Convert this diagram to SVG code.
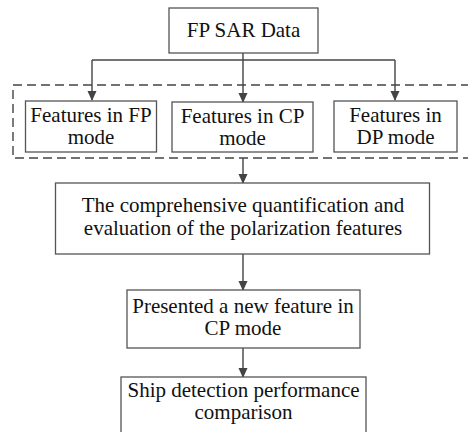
<svg xmlns="http://www.w3.org/2000/svg" width="468" height="432" viewBox="0 0 468 432">
<style>
.box{fill:#fff;stroke:#555;stroke-width:1.3}
.t{font-family:"Liberation Serif","Times New Roman",serif;font-size:21px;fill:#111;text-anchor:middle}
.ln{fill:none;stroke:#444;stroke-width:1.4}
.dash{fill:none;stroke:#444;stroke-width:1.4;stroke-dasharray:9,5}
</style>
<defs>
<marker id="ah" markerWidth="10" markerHeight="11" refX="10" refY="5" orient="auto" markerUnits="userSpaceOnUse" viewBox="0 0 11 10">
<path d="M0,0 L11,5 L0,10 z" fill="#444"/>
</marker>
</defs>
<rect width="468" height="432" fill="#fff"/>
<path class="dash" d="M470,85 H13 V158 H470"/>
<g id="connectors">
<path class="ln" d="M243,53 V60"/>
<path class="ln" d="M92,60 H395"/>
<path class="ln" d="M92,60 V100" marker-end="url(#ah)"/>
<path class="ln" d="M243,60 V102" marker-end="url(#ah)"/>
<path class="ln" d="M395,60 V100" marker-end="url(#ah)"/>
<path class="ln" d="M243,158 V183" marker-end="url(#ah)"/>
<path class="ln" d="M243,254 V290" marker-end="url(#ah)"/>
<path class="ln" d="M243,348 V377" marker-end="url(#ah)"/>
</g>
<g id="fpsar">
<rect class="box" x="169" y="8" width="149" height="45"/>
<text class="t" x="243.5" y="37">FP SAR Data</text>
</g>
<g id="fp">
<rect class="box" x="25.5" y="101" width="131" height="51"/>
<text class="t" x="91" y="122">Features in FP</text>
<text class="t" x="91" y="144">mode</text>
</g>
<g id="cp">
<rect class="box" x="172" y="102" width="141" height="50"/>
<text class="t" x="242.5" y="123">Features in CP</text>
<text class="t" x="242.5" y="145">mode</text>
</g>
<g id="dp">
<rect class="box" x="334" y="101" width="123" height="51"/>
<text class="t" x="395.5" y="122">Features in</text>
<text class="t" x="395.5" y="144">DP mode</text>
</g>
<g id="eval">
<rect class="box" x="55.5" y="183" width="374" height="71"/>
<text class="t" x="243" y="212">The comprehensive quantification and</text>
<text class="t" x="243" y="235">evaluation of the polarization features</text>
</g>
<g id="newfeat">
<rect class="box" x="127" y="290" width="233" height="58"/>
<text class="t" x="243" y="313">Presented a new feature in</text>
<text class="t" x="243" y="335">CP mode</text>
</g>
<g id="ship">
<rect class="box" x="121" y="377" width="245" height="60"/>
<text class="t" x="243.5" y="397">Ship detection performance</text>
<text class="t" x="243.5" y="419">comparison</text>
</g>
</svg>
